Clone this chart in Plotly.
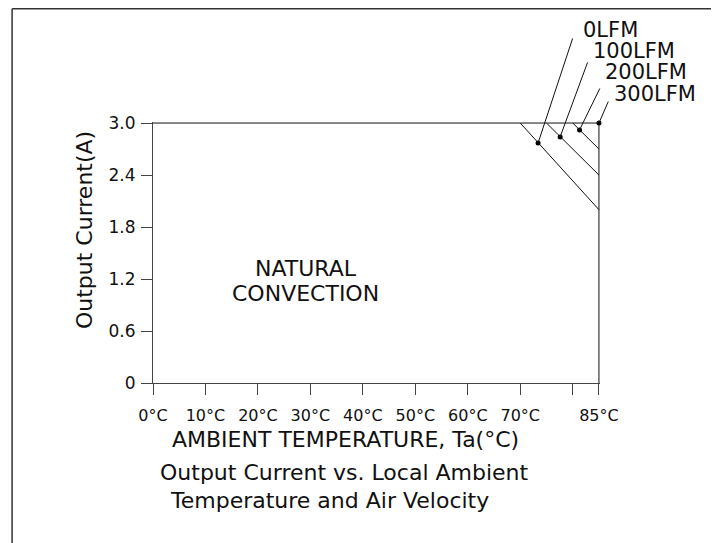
import plotly.graph_objects as go

# ---------------- data ----------------
temp_0lfm = [0, 70, 85]
curr_0lfm = [3.0, 3.0, 2.0]
temp_100lfm = [75, 85]
curr_100lfm = [3.0, 2.4]
temp_200lfm = [80, 85]
curr_200lfm = [3.0, 2.7]
temp_300lfm = [70, 85, 85]
curr_300lfm = [3.0, 3.0, 0.0]

callout_labels = ["0LFM", "100LFM", "200LFM", "300LFM"]
callout_temp = [73.4, 77.6, 81.3, 85.0]
callout_curr = [2.77, 2.84, 2.92, 3.0]

x_tickvals = [0, 10, 20, 30, 40, 50, 60, 70, 80, 85]
x_ticktext = ["0°C", "10°C", "20°C", "30°C", "40°C", "50°C", "60°C", "70°C", "", "85°C"]
y_tickvals = [0, 0.6, 1.2, 1.8, 2.4, 3.0]
y_ticktext = ["0", "0.6", "1.2", "1.8", "2.4", "3.0"]

# ---------------- layout geometry ----------------
OFF = 8                 # page body margin in the browser
W, H = 719 - OFF, 543 - OFF
L = 153 - OFF           # figure px of 0 degC
B = 383 - OFF           # figure px of 0 A
PX_PER_C = 5.25
PX_PER_A = 260 / 3
XMAX = 85.2
YMAX = 3.012
plot_w = XMAX * PX_PER_C
plot_h = YMAX * PX_PER_A
R = W - L - plot_w
T = B - plot_h
BOT = H - B


def px(xp):
    """screen x (page px) -> paper x"""
    return (xp - OFF - L) / plot_w


def py(yp):
    """screen y (page px) -> paper y"""
    return (B - (yp - OFF)) / plot_h


FONT = "DejaVu Sans"
INK = "#111111"
AX = "#444444"

fig = go.Figure()
for tx, cy in [(temp_300lfm, curr_300lfm), (temp_200lfm, curr_200lfm),
               (temp_100lfm, curr_100lfm), (temp_0lfm, curr_0lfm)]:
    fig.add_trace(go.Scatter(x=tx, y=cy, mode="lines",
                             line=dict(color="#111111", width=1),
                             showlegend=False, hoverinfo="skip"))

fig.add_trace(go.Scatter(x=callout_temp, y=callout_curr, mode="markers",
                         marker=dict(color="black", size=5),
                         cliponaxis=False, showlegend=False, hoverinfo="skip"))

# leader lines (pixel offsets from the dot) and labels
leader_off = [(35, -106), (28, -76), (21, -43), (10, -23)]
label_off = [(43, 113), (31, 86), (23, 58), (13, 29)]
annotations = []
for lab, t, c, (ax, ay), (lx, ly) in zip(callout_labels, callout_temp, callout_curr, leader_off, label_off):
    annotations.append(dict(x=t, y=c, xref="x", yref="y", text="", showarrow=True,
                            ax=ax, ay=ay, arrowhead=0, arrowwidth=1, arrowcolor="#111111",
                            standoff=0, startstandoff=0))
    annotations.append(dict(x=t, y=c, xref="x", yref="y", text=lab, showarrow=False,
                            xanchor="left", yanchor="middle", xshift=lx, yshift=ly,
                            font=dict(family=FONT, size=21, color=INK)))

# region text
annotations.append(dict(x=29.1, y=1.318, xref="x", yref="y", text="NATURAL", showarrow=False,
                        xanchor="center", yanchor="middle", font=dict(family=FONT, size=22, color=INK)))
annotations.append(dict(x=29.1, y=1.03, xref="x", yref="y", text="CONVECTION", showarrow=False,
                        xanchor="center", yanchor="middle", font=dict(family=FONT, size=22, color=INK)))

# titles
annotations.append(dict(x=px(346), y=py(440), xref="paper", yref="paper",
                        text="AMBIENT TEMPERATURE, Ta(°C)", showarrow=False,
                        xanchor="center", yanchor="middle", font=dict(family=FONT, size=22, color=INK)))
annotations.append(dict(x=px(345), y=py(473), xref="paper", yref="paper",
                        text="Output Current vs. Local Ambient", showarrow=False,
                        xanchor="center", yanchor="middle", font=dict(family=FONT, size=22, color=INK)))
annotations.append(dict(x=px(330), y=py(501), xref="paper", yref="paper",
                        text="Temperature and Air Velocity", showarrow=False,
                        xanchor="center", yanchor="middle", font=dict(family=FONT, size=22, color=INK)))
annotations.append(dict(x=px(84), y=py(230), xref="paper", yref="paper",
                        text="Output Current(A)", showarrow=False, textangle=-90,
                        xanchor="center", yanchor="middle", font=dict(family=FONT, size=22, color=INK)))

shapes = [
    dict(type="line", xref="paper", yref="paper", x0=px(12), x1=px(725), y0=py(8.8), y1=py(8.8),
         line=dict(color="#333333", width=1.5)),
    dict(type="line", xref="paper", yref="paper", x0=px(12), x1=px(12), y0=py(8.8), y1=py(550),
         line=dict(color="#333333", width=1.5)),
]

fig.update_layout(
    width=W, height=H, autosize=False,
    margin=dict(l=L, r=R, t=T, b=BOT, pad=0),
    paper_bgcolor="white", plot_bgcolor="white",
    showlegend=False,
    annotations=annotations,
    shapes=shapes,
    xaxis=dict(range=[0, XMAX], tickmode="array", tickvals=x_tickvals, ticktext=x_ticktext,
               ticks="outside", ticklen=11, tickwidth=1, tickcolor=AX,
               showline=True, linecolor=AX, linewidth=1, showgrid=False, zeroline=False,
               tickfont=dict(family=FONT, size=16, color=INK), ticklabelstandoff=7,
               fixedrange=True),
    yaxis=dict(range=[0, YMAX], tickmode="array", tickvals=y_tickvals, ticktext=y_ticktext,
               ticks="outside", ticklen=11, tickwidth=1, tickcolor=AX,
               showline=True, linecolor=AX, linewidth=1, showgrid=False, zeroline=False,
               tickfont=dict(family=FONT, size=17, color=INK), ticklabelstandoff=2,
               fixedrange=True),
)

fig.write_html("out.html")
